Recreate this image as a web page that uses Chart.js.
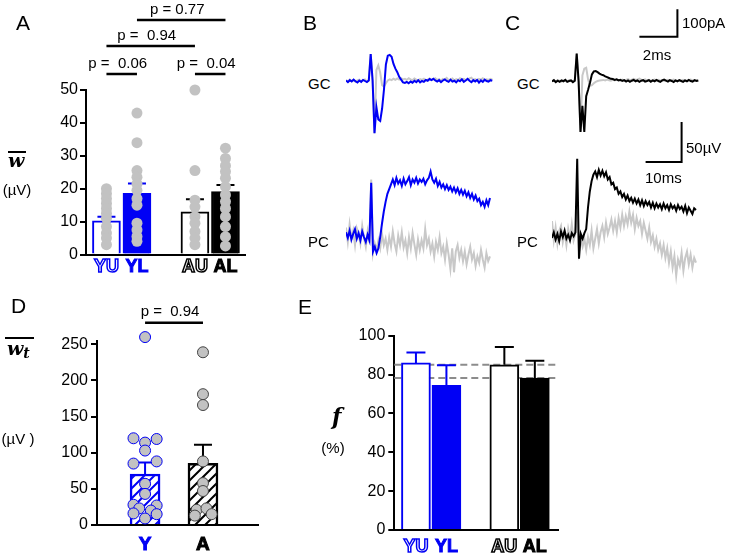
<!DOCTYPE html>
<html>
<head>
<meta charset="utf-8">
<script src="https://cdn.jsdelivr.net/npm/chart.js@4.4.0/dist/chart.umd.min.js"></script>
<style>
html, body { margin: 0; padding: 0; background: #fff; }
#fig { position: relative; width: 729px; height: 556px; overflow: hidden; font-family: "Liberation Sans", Arial, Helvetica, sans-serif; color: #000; }
canvas { position: absolute; }
.t { position: absolute; line-height: 1; white-space: pre; transform: translateY(-50%); }
.c { transform: translate(-50%, -50%); }
.lab { font-size: 21px; }
.s { font-size: 15px; }
.w { position: absolute; line-height: 1; font-family: "DejaVu Serif", serif; font-weight: bold; font-style: italic; white-space: pre; }
.ov { position: absolute; height: 2px; background: #000; }
</style>
</head>
<body>
<div id="fig">
  <canvas id="cA" width="260" height="290" style="left:0;top:0"></canvas>
  <canvas id="cBgc" width="150" height="140" style="left:346px;top:0"></canvas>
  <canvas id="cBpc" width="150" height="175" style="left:346px;top:115px"></canvas>
  <canvas id="cCgc" width="177" height="140" style="left:552px;top:0"></canvas>
  <canvas id="cCpc" width="177" height="175" style="left:552px;top:115px"></canvas>
  <canvas id="cD" width="270" height="266" style="left:0;top:290px"></canvas>
  <canvas id="cE" width="300" height="266" style="left:300px;top:290px"></canvas>

  <div class="t lab" style="left:16px;top:22px">A</div>
  <div class="t lab" style="left:303px;top:22px">B</div>
  <div class="t lab" style="left:505px;top:22px">C</div>
  <div class="t lab" style="left:11px;top:305px">D</div>
  <div class="t lab" style="left:298px;top:306px">E</div>

  <div class="t s" style="left:308px;top:83px">GC</div>
  <div class="t s" style="left:308px;top:241px">PC</div>
  <div class="t s" style="left:517px;top:83px">GC</div>
  <div class="t s" style="left:517px;top:241px">PC</div>
  <div class="t s" style="left:682px;top:22px">100pA</div>
  <div class="t s c" style="left:657px;top:54px">2ms</div>
  <div class="t s" style="left:686px;top:147px">50µV</div>
  <div class="t s" style="left:645px;top:177px">10ms</div>

  <div class="w" style="left:8px;top:151px;font-size:19px">w</div>
  <div class="ov" style="left:8px;top:151px;width:18px"></div>
  <div class="t s c" style="left:17px;top:189px">(µV)</div>

  <div class="w" style="left:7px;top:339px;font-size:19px">w<span style="font-size:14px;vertical-align:-3px">t</span></div>
  <div class="ov" style="left:5px;top:337px;width:29px"></div>
  <div class="t s c" style="left:18px;top:438px">(µV )</div>

  <div class="w" style="left:332px;top:405px;font-size:22px">f</div>
  <div class="t s c" style="left:333px;top:447px">(%)</div>
</div>

<script>
// ---------- data ----------
// A: mean EPSP amplitude per group (µV)
const groupsA = ['YU', 'YL', 'AU', 'AL'];
const meanA = [10.2, 18.6, 13.0, 19.1];
const semA = [1.3, 3.0, 3.8, 2.0];
const ptsYU = [20, 18.5, 17, 15.5, 14, 12.5, 11, 8.5, 6.5, 5, 3];
const ptsYL = [43, 34, 25.5, 23.5, 21.5, 19.5, 17, 15, 9.5, 7.5, 5.5, 4];
const ptsAU = [50, 25.5, 16.5, 14.5, 11.5, 9.5, 7, 5, 3];
const ptsAL = [32.3, 29.2, 27, 25.2, 23.2, 20.6, 18.1, 16.1, 14, 11.5, 8.5, 5.4, 2.6];
const pTextsA = ['p =  0.06', 'p =  0.04', 'p =  0.94', 'p = 0.77'];

// D: total amplitude (µV)
const groupsD = ['Y', 'A'];
const meanD = [70.6, 85.5];
const semD = [16, 25.5];
const ptsDY = [260, 120, 119, 114, 103, 85, 88, 57, 43, 28, 27, 23, 16, 20, 15, 9];
const jitDY = [0, -0.2, 0.2, 0, 0, -0.2, 0.2, 0, 0, -0.2, 0.2, -0.1, -0.2, 0.1, 0.2, 0];
const ptsDA = [239, 181, 166, 88, 58, 47, 21, 23, 13, 15];
const jitDA = [0, 0, 0, 0, 0, 0, -0.11, 0.06, -0.14, 0.15];
const pTextD = 'p =  0.94';

// E: fraction (%)
const groupsE = ['YU', 'YL', 'AU', 'AL'];
const meanE = [86, 74.5, 85, 78.2];
const semE = [5.3, 10.3, 9.2, 8.9];

// B/C traces: GC current (pA, 0.1 ms/sample), PC field (µV, 0.5 ms/sample)
const gcDt = 0.1;
const pcDt = 0.5;
const gcBlueB = [2, -4, 3, -2, 5, -1, -5, 2, -3, 4, 0, -4, 2,
  98, 2, -190, -95, -140, -145, -100, -30, 60, 92, 95, 88, 62, 45, 32, 15, 5, -5,
  -7, -3, -8, -2, -6, 1, -4, 3, -5, 0, -3, 4, 1, 7, 3, 8, 2, -2, 3, -4, 2, 6, 0, -3, 5, -2, 1, -5, 3, -1,
  6, -3, 2, 8, 1, -4, 3, -2, 4, -6, 2, -3, 5, 0, -2, 3, 1];
const gcGrayB = [4, -2, 5, 0, 3, -3, 2, 5, -1, 3, 6, -2, 4,
  98, 2, -190, 40, 57, 30, -15, -20, -8, 2, 6, 3, 8, 4, 9, 5, 10, 6,
  8, 4, 10, 6, 3, 9, 5, 2, 7, 4, 8, 1, 5, 9, 3, 6, 10, 4, 7, 2, 8, 5, 11, 3, 6, 9, 2, 7, 4, 10,
  5, 8, 3, 6, 9, 12, 4, 7, 2, 8, 5, 10, 3, 6, 4, 8, 5];
const gcBlackC = [-2, 3, -4, 1, -3, 2, -1, 4, -3, 0, 2, -4, 1,
  100, 0, -185, -90, -185, -55, -32, -6, 24, 35, 36, 32, 27, 23, 21, 17, 14, 11,
  8, 7, 4, 6, 2, 4, 0, 3, -2, 2, -3, 1, 4, -1, 2, -3, 1, 3, -2, 0, 3, -3, 2, -1, 4, 0, -3, 2, 5, 1,
  -2, 3, 0, -4, 2, -1, 3, 0, -3, 2, -1, 4, 0, -2, 3, 0, 2];
const gcGrayC = [0, 2, -1, 3, 0, -2, 2, 1, -1, 3, 0, -1, 2,
  100, 0, -185, 20, 45, 48, 5, -18, -15, -8, -3, 0, 2, 3, 4, 2, 5, 3,
  1, 4, 2, 6, 3, 1, 5, 2, 4, 7, 3, 5, 8, 4, 6, 9, 5, 3, 6, 2, 4, 1, 3, 5, 2, 4, 1, 3, 0, 2,
  4, 1, 3, 5, 2, 0, 3, 1, 4, 2, 0, 3, 5, 2, 1, 3, 2];
const pcBlueB = [4, -3, 6, -5, 2, 8, -4, 3, -6, 5, -2, -8, 1, -6,
  66, -20, -14, -22, -16, -2, 15, 30, 42, 52, 58, 64, 70,
  63, 72, 65, 69, 62, 71, 64, 68, 73, 63, 70, 66, 72, 65, 70, 67, 71, 64, 69, 72, 80,
  70, 66, 71, 62, 67, 60, 64, 58, 63, 57, 61, 55, 60, 54, 59, 52, 57, 51, 56, 49,
  54, 47, 52, 45, 50, 43, 46, 38, 42, 36, 44, 38, 47];
const pcGrayB = [10, -8, 14, -4, 6, -12, 9, 2, -10, 12, -3, -14, 5, -9,
  70, -22, -10, -18, -6, -16, 2, -12, -4, -18, -2, -14, 5, -10, -20, 0, -12, 4, -15, -6,
  -22, -2, -16, 3, -11, -24, -5, -18, -6, -16, 8, -12, -4, -20, -10, -26, -8, -18, -2, -22,
  -14, -30, -10, -24, -42, -16, -46, -20, -12, -28, -18, -32, -20, -36, -24, -14, -30, -22, -38, -26,
  -34, -18, -30, -40, -22, -32, -26];
const pcBlackC = [-3, 4, -5, 2, -7, 5, -2, 6, -4, 1, -6, 3, -1, 4,
  96, -29, 2, -4, 3, 8, 35, 55, 68, 76, 80, 73, 82, 75, 81, 74, 79, 70, 73, 64,
  66, 58, 60, 52, 55, 48, 52, 45, 50, 43, 47, 41, 46, 40, 45, 38, 44, 37, 43, 38,
  42, 35, 41, 34, 40, 35, 39, 33, 40, 34, 38, 32, 39, 34, 37, 31, 38, 33, 36, 30,
  37, 28, 35, 31, 27, 34, 32];
const pcGrayC = [18, -6, 10, -10, 6, 12, -8, 4, -12, 8, -4, 14, -6, 2,
  30, -20, -6, -14, -4, -18, -2, -12, 6, -16, -4, 8, -10, 4, 12, -2, 16, 2, 10, 20,
  6, 18, 4, 22, 10, 26, 12, 24, 14, 30, 16, 26, 8, 22, 12, 18, 2, 16, 6, -4,
  10, -8, 0, -14, -4, -18, -10, -24, -12, -28, -16, -34, -20, -40, -26, -50, -30, -38, -22, -44,
  -28, -20, -36, -24, -40, -28, -34];
const gcScale = { ms: 2, pA: 100 };
const pcScale = { ms: 10, uV: 50 };

// ---------- layout / style ----------
const FONT = '"Liberation Sans", Arial, Helvetica, sans-serif';
const BLUE = '#0000f5';
const PT_GRAY = '#c2c2c2';
const TR_GRAY = '#c8c8c8';
const slot4 = [0, 1, 2.9, 3.9];   // bar slots with a gap between the two groups
const slot2 = [0, 1];

Chart.defaults.font.family = FONT;
Chart.defaults.color = '#000';

const EXTRAS = {};
Chart.register({
  id: 'extras',
  beforeDatasetsDraw(chart) {
    const ex = EXTRAS[chart.canvas.id];
    if (!ex || !ex.refs) return;
    const { ctx, chartArea: ca, scales: { y } } = chart;
    ctx.save();
    ctx.strokeStyle = '#8c8c8c'; ctx.lineWidth = 2; ctx.setLineDash([7, 4]);
    ex.refs.forEach(v => {
      const py = y.getPixelForValue(v);
      ctx.beginPath(); ctx.moveTo(ca.left, py); ctx.lineTo(ca.right, py); ctx.stroke();
    });
    ctx.restore();
  },
  afterDatasetDraw(chart, args) {
    const ex = EXTRAS[chart.canvas.id];
    if (!ex || args.meta.type !== 'bar') return;
    const { ctx, scales: { x, y } } = chart;
    ctx.save();
    ctx.lineWidth = 2;
    ex.mean.forEach((m, i) => {
      const px = x.getPixelForValue(ex.pos[i]);
      const y0 = y.getPixelForValue(m), y1 = y.getPixelForValue(m + ex.sem[i]);
      ctx.strokeStyle = ex.colors[i];
      ctx.beginPath();
      ctx.moveTo(px, y0); ctx.lineTo(px, y1);
      ctx.moveTo(px - ex.cap / 2, y1); ctx.lineTo(px + ex.cap / 2, y1);
      ctx.stroke();
    });
    ctx.restore();
  },
  afterDraw(chart) {
    const ex = EXTRAS[chart.canvas.id];
    if (!ex) return;
    const { ctx, chartArea: ca, scales: { x } } = chart;
    ctx.save();
    ctx.textAlign = 'center'; ctx.textBaseline = 'middle';
    ex.labels.forEach((lab, i) => {
      const px = x.getPixelForValue(ex.pos[i]), py = ca.bottom + ex.labelDy;
      ctx.font = 'bold ' + ex.labelSize + 'px ' + FONT;
      ctx.strokeStyle = ex.colors[i];
      if (ex.outline[i]) {
        ctx.fillStyle = '#fff'; ctx.fillText(lab, px, py);
        ctx.lineWidth = 1.5; ctx.strokeText(lab, px, py);
      } else {
        ctx.fillStyle = ex.colors[i]; ctx.fillText(lab, px, py);
        ctx.lineWidth = 1; ctx.strokeText(lab, px, py);
      }
    });
    (ex.brackets || []).forEach(b => {
      const x1 = x.getPixelForValue(ex.pos[b.a]), x2 = x.getPixelForValue(ex.pos[b.b]);
      const py = ca.top - b.dy;
      ctx.strokeStyle = '#000'; ctx.lineWidth = 2.5;
      ctx.beginPath(); ctx.moveTo(x1, py); ctx.lineTo(x2, py); ctx.stroke();
      ctx.font = '15px ' + FONT; ctx.fillStyle = '#000';
      ctx.fillText(b.text, (x1 + x2) / 2 - 4, py - 10.5);
    });
    ctx.restore();
  }
});

function barPanel(id, o) {
  EXTRAS[id] = o.extras;
  return new Chart(document.getElementById(id), {
    type: 'bar',
    data: { datasets: o.datasets },
    options: {
      responsive: false, animation: false, devicePixelRatio: 1,
      layout: { padding: { top: o.padTop, right: o.padRight, left: 0, bottom: 0 } },
      plugins: { legend: { display: false }, tooltip: { enabled: false } },
      scales: {
        x: {
          type: 'linear', min: o.xMin, max: o.xMax, offset: false,
          ticks: { display: false }, grid: { display: false, offset: false },
          border: { color: '#000', width: 2 },
          afterFit: s => { s.height = o.xH; }
        },
        y: {
          min: 0, max: o.yMax,
          ticks: { stepSize: o.step, includeBounds: false, color: '#000', font: { size: 16 }, padding: o.tickPad },
          grid: { drawOnChartArea: false, color: '#000', lineWidth: 2, tickLength: 6 },
          border: { color: '#000', width: 2 },
          afterFit: s => { s.width = o.yW; }
        }
      }
    }
  });
}

function scatterSet(vals, pos, jit, border) {
  return {
    type: 'scatter', order: 0, clip: false,
    data: vals.map((v, i) => ({ x: pos + (jit ? jit[i] : 0), y: v })),
    pointRadius: 5.5, pointBackgroundColor: PT_GRAY,
    pointBorderColor: border || PT_GRAY, pointBorderWidth: border ? 1 : 0
  };
}

// ---------- panel A ----------
barPanel('cA', {
  padTop: 90, padRight: 15, xMin: -0.67, xMax: 4.54, xH: 35.5, yW: 86, yMax: 50, step: 10, tickPad: 2,
  datasets: [
    {
      type: 'bar', order: 1, barThickness: 28, borderWidth: 2,
      data: meanA.map((v, i) => ({ x: slot4[i], y: v })),
      backgroundColor: ['#fff', BLUE, '#fff', '#000'],
      borderColor: [BLUE, BLUE, '#000', '#000']
    },
    scatterSet(ptsYU, slot4[0]), scatterSet(ptsYL, slot4[1]),
    scatterSet(ptsAU, slot4[2]), scatterSet(ptsAL, slot4[3])
  ],
  extras: {
    pos: slot4, mean: meanA, sem: semA, cap: 18,
    colors: [BLUE, BLUE, '#000', '#000'], outline: [true, false, true, false],
    labels: groupsA, labelDy: 12.5, labelSize: 18,
    brackets: [
      { a: 0, b: 1, dy: 16, text: pTextsA[0] },
      { a: 2, b: 3, dy: 16, text: pTextsA[1] },
      { a: 0, b: 2, dy: 44, text: pTextsA[2] },
      { a: 1, b: 3, dy: 70, text: pTextsA[3] }
    ]
  }
});

// ---------- panel D ----------
function hatch(canvasId, color) {
  const c = document.createElement('canvas');
  c.width = c.height = 10;
  const g = c.getContext('2d');
  g.fillStyle = '#fff'; g.fillRect(0, 0, 10, 10);
  g.strokeStyle = color; g.lineWidth = 2;
  g.beginPath();
  g.moveTo(0, 10); g.lineTo(10, 0);
  g.moveTo(-2, 2); g.lineTo(2, -2);
  g.moveTo(8, 12); g.lineTo(12, 8);
  g.stroke();
  return document.getElementById(canvasId).getContext('2d').createPattern(c, 'repeat');
}

barPanel('cD', {
  padTop: 50.7, padRight: 12, xMin: -0.83, xMax: 1.95, xH: 31, yW: 97, yMax: 255, step: 50, tickPad: 3,
  datasets: [
    {
      type: 'bar', order: 1, barThickness: 30, borderWidth: 2.5,
      data: meanD.map((v, i) => ({ x: slot2[i], y: v })),
      backgroundColor: [hatch('cD', BLUE), hatch('cD', '#000')],
      borderColor: [BLUE, '#000']
    },
    scatterSet(ptsDY, slot2[0], jitDY, BLUE),
    scatterSet(ptsDA, slot2[1], jitDA, '#444')
  ],
  extras: {
    pos: slot2, mean: meanD, sem: semD, cap: 18,
    colors: [BLUE, '#000'], outline: [false, false],
    labels: groupsD, labelDy: 20, labelSize: 19,
    brackets: [{ a: 0, b: 1, dy: 18, text: pTextD }]
  }
});

// ---------- panel E ----------
barPanel('cE', {
  padTop: 45.7, padRight: 42, xMin: -0.71, xMax: 4.66, xH: 26, yW: 94.3, yMax: 100, step: 20, tickPad: 3,
  datasets: [
    {
      type: 'bar', order: 1, barThickness: 29, borderWidth: 2,
      data: meanE.map((v, i) => ({ x: slot4[i], y: v })),
      backgroundColor: ['#fff', BLUE, '#fff', '#000'],
      borderColor: [BLUE, BLUE, '#000', '#000']
    }
  ],
  extras: {
    pos: slot4, mean: meanE, sem: semE, cap: 19,
    colors: [BLUE, BLUE, '#000', '#000'], outline: [true, false, true, false],
    labels: groupsE, labelDy: 16.7, labelSize: 18,
    refs: [meanE[2], meanE[3]]
  }
});

// ---------- traces B / C ----------
const GC = { pxX: 19, pxY: 0.275, h: 140, base: 81 };
const PC = { pxX: 3.6, pxY: 0.8, h: 175, base: 120.5 };

function series(vals, dt) { return vals.map((v, i) => ({ x: i * dt, y: v })); }

function traceSet(vals, dt, color, order) {
  return { data: series(vals, dt), borderColor: color, borderWidth: 2, order: order, pointRadius: 0, tension: 0 };
}

function scaleBarSet(anchor, ms, amp) {
  return {
    data: [{ x: anchor.t, y: anchor.v }, { x: anchor.t + ms, y: anchor.v }, { x: anchor.t + ms, y: anchor.v + amp }],
    borderColor: '#000', borderWidth: 2, order: 0, pointRadius: 0, tension: 0, clip: false
  };
}

function traceChart(id, geo, sets) {
  const cv = document.getElementById(id);
  return new Chart(cv, {
    type: 'line',
    data: { datasets: sets },
    options: {
      responsive: false, animation: false, devicePixelRatio: 1,
      layout: { padding: 0 },
      plugins: { legend: { display: false }, tooltip: { enabled: false } },
      scales: {
        x: { type: 'linear', display: false, min: 0, max: cv.width / geo.pxX },
        y: { type: 'linear', display: false, min: -(geo.h - geo.base) / geo.pxY, max: geo.base / geo.pxY }
      }
    }
  });
}

traceChart('cBgc', GC, [traceSet(gcBlueB, gcDt, BLUE, 0), traceSet(gcGrayB, gcDt, TR_GRAY, 1)]);
traceChart('cBpc', PC, [traceSet(pcBlueB, pcDt, BLUE, 0), traceSet(pcGrayB, pcDt, TR_GRAY, 1)]);
traceChart('cCgc', GC, [
  traceSet(gcBlackC, gcDt, '#000', 0), traceSet(gcGrayC, gcDt, TR_GRAY, 1),
  scaleBarSet({ t: 4.6, v: 161 }, gcScale.ms, gcScale.pA)
]);
traceChart('cCpc', PC, [
  traceSet(pcBlackC, pcDt, '#000', 0), traceSet(pcGrayC, pcDt, TR_GRAY, 1),
  scaleBarSet({ t: 26, v: 92 }, pcScale.ms, pcScale.uV)
]);
</script>
</body>
</html>
